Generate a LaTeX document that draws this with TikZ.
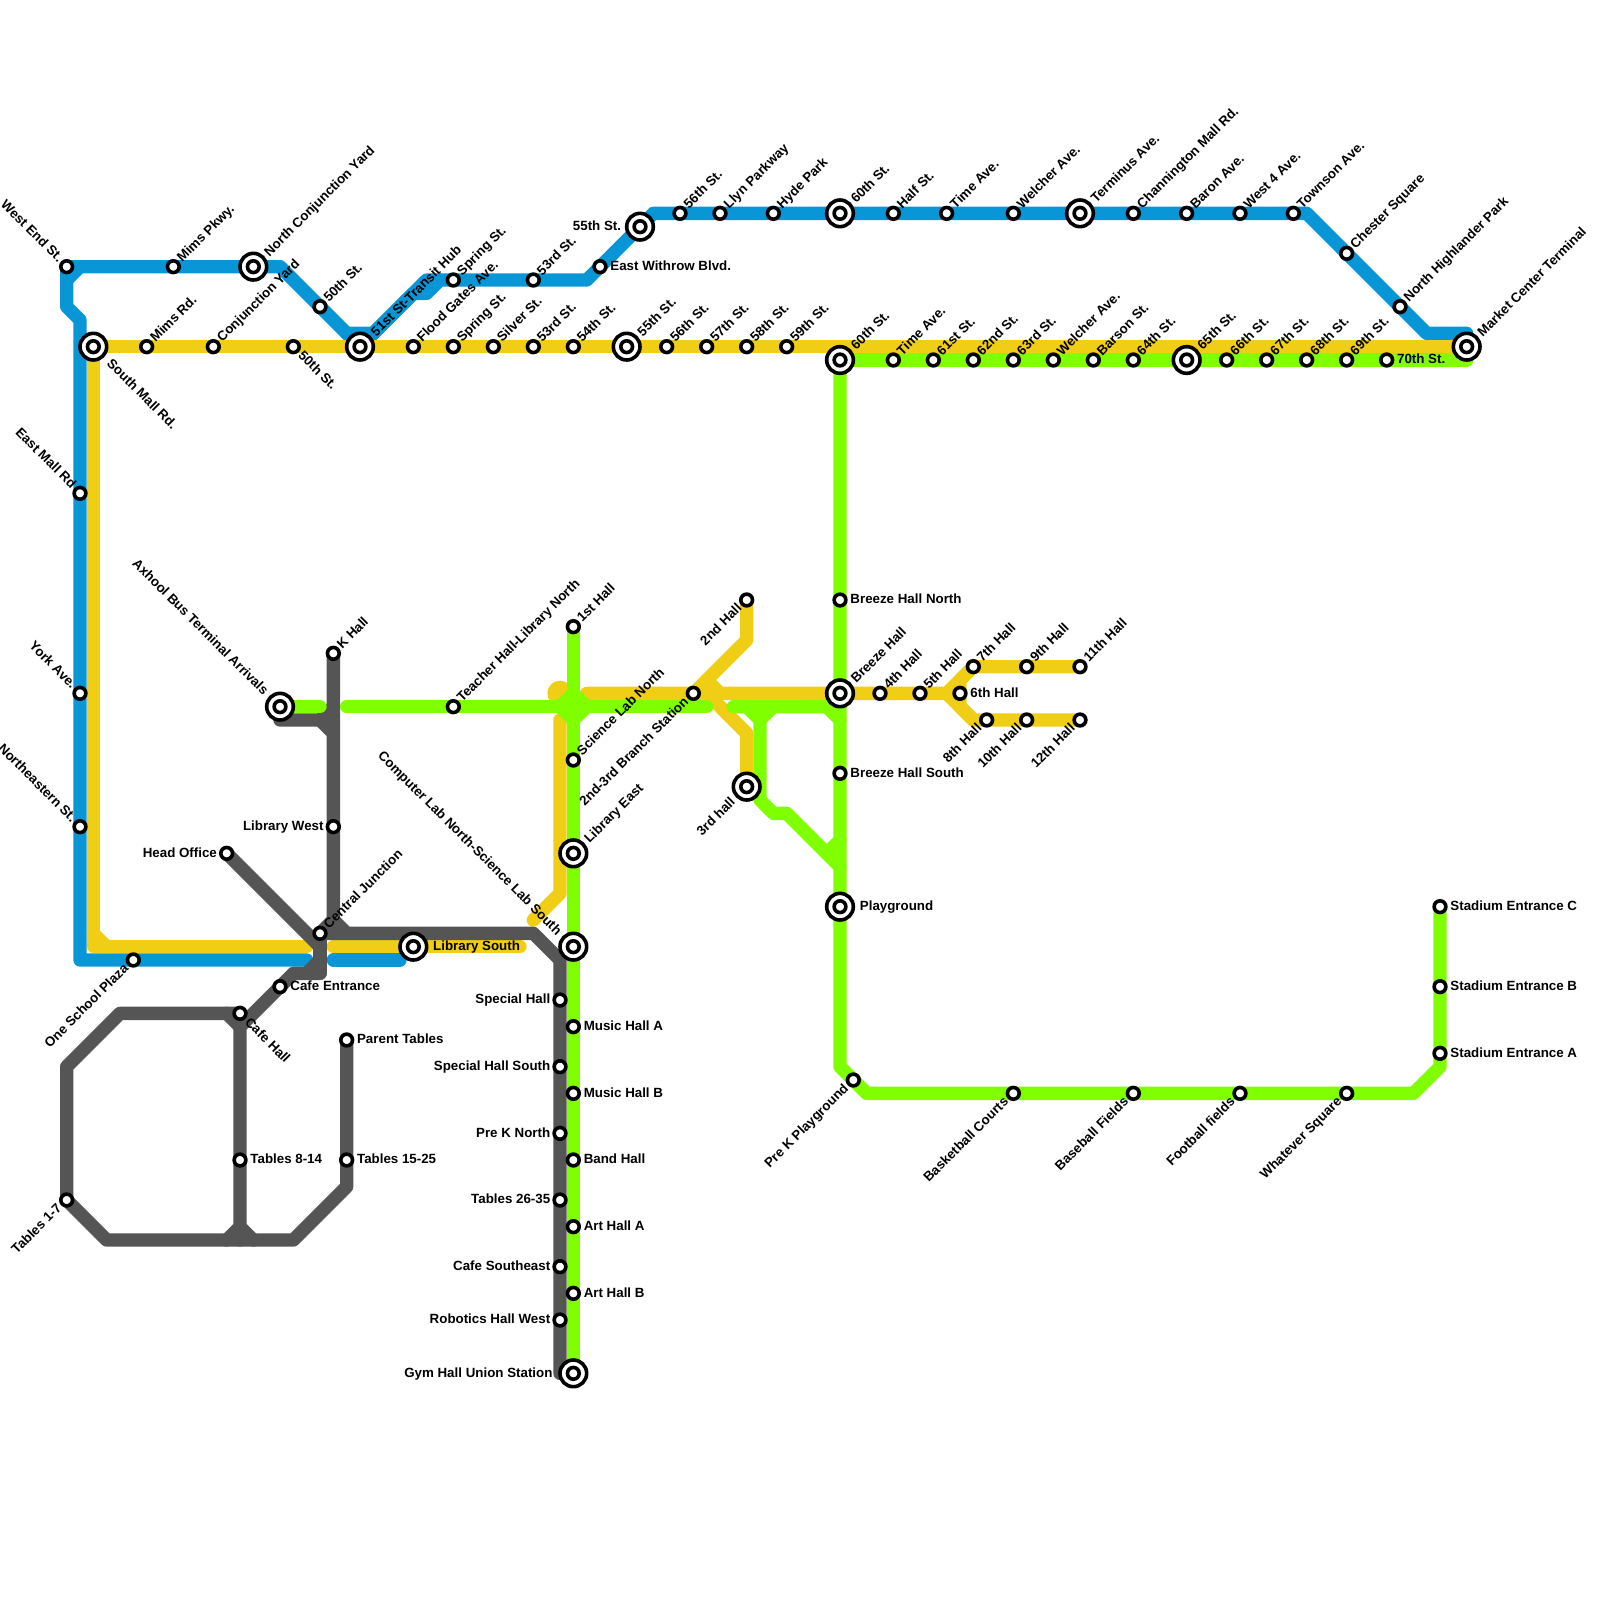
\documentclass[tikz,border=0pt]{standalone}
\usepackage{fontspec}
\setmainfont{Liberation Sans}
\definecolor{bluetrack}{HTML}{0896D7}
\definecolor{yellowtrack}{HTML}{F0CE15}
\definecolor{greentrack}{HTML}{80FF00}
\definecolor{greytrack}{HTML}{555555}
\usetikzlibrary{backgrounds}

\begin{document}
\begin{tikzpicture}[
        x=0.4cm, y=-0.4cm,
        every label/.style={font=\fontsize{11.38}{13}\selectfont\bfseries, inner sep=0pt, text height=6.5pt, text depth=0pt},
        track/.style={line width=0.4cm, color=#1, line cap=round, line join=round},
        stn/.style={circle, draw=black, fill=white, line width=1.08mm, inner sep=0pt, outer sep=0pt, minimum size=3.52mm},
        stnbig/.style={circle, draw=black, fill=white, line width=1.08mm, inner sep=0pt, outer sep=0pt, minimum size=8mm,
            path picture={\draw[black, line width=1.08mm, fill=white] (path picture bounding box.center) circle (1.76mm);}},
        tagne/.style={label={[xshift=0.6mm, yshift=-0.6mm, rotate=45, anchor=west, label distance=1.3mm]45:#1}},
        tagnw/.style={label={[xshift=-0.6mm, yshift=-0.6mm, rotate=-45, anchor=east, label distance=1.3mm]135:#1}},
        tagse/.style={label={[xshift=0.8mm, yshift=0.45mm, rotate=-45, anchor=west, label distance=1.3mm]-45:#1}},
        tagsw/.style={label={[xshift=-0.8mm, yshift=0.6mm, rotate=45, anchor=east, label distance=1.3mm]-135:#1}},
        tagr/.style={label={[anchor=west, label distance=1.3mm]0:#1}},
        tagl/.style={label={[anchor=east, label distance=1.1mm]180:#1}},
        tagbne/.style={label={[xshift=1.2mm, yshift=-1.2mm, rotate=45, anchor=west, label distance=2mm]45:#1}},
        tagbnw/.style={label={[xshift=-1.4mm, yshift=-0.8mm, rotate=-45, anchor=east, label distance=2mm]135:#1}},
        tagbse/.style={label={[xshift=1.8mm, yshift=0.3mm, rotate=-45, anchor=west, label distance=2mm]-45:#1}},
        tagbsw/.style={label={[xshift=-1.2mm, yshift=0.8mm, rotate=45, anchor=east, label distance=2mm]-135:#1}},
        tagbr/.style={label={[anchor=west, label distance=1.9mm]0:#1}},
        tagbl/.style 2 args={label={[anchor=east, label distance=#1]180:#2}}
    ]
        \useasboundingbox (0,0) rectangle (120,120);

        % Upper street line
        \node[stn, tagnw={West End St.}] (westend) at (5,20) {};
        \node[stn, tagne={Mims Pkwy.}] (mimspkwy) at (13,20) {};
        \node[stnbig, tagbne={North Conjunction Yard}] (northyard) at (19,20) {};
        \node[stn, tagne={50th St.}] (fiftiethup) at (24,23) {};
        \node[stn, tagne={Spring St.}] (springup) at (34,21) {};
        \node[stn, tagne={53rd St.}] (thirdup) at (40,21) {};
        \node[stn, tagr={East Withrow Blvd.}] (withrow) at (45,20) {};
        \node[stnbig, tagbl={1.6mm}{55th St.}] (fifthup) at (48,17) {};
        \node[stn, tagne={56th St.}] (sixthup) at (51,16) {};
        \node[stn, tagne={Llyn Parkway}] (llyn) at (54,16) {};
        \node[stn, tagne={Hyde Park}] (hyde) at (58,16) {};
        \node[stnbig, tagbne={60th St.}] (sixtiethup) at (63,16) {};
        \node[stn, tagne={Half St.}] (half) at (67,16) {};
        \node[stn, tagne={Time Ave.}] (timeup) at (71,16) {};
        \node[stn, tagne={Welcher Ave.}] (welcherup) at (76,16) {};
        \node[stnbig, tagbne={Terminus Ave.}] (terminus) at (81,16) {};
        \node[stn, tagne={Channington Mall Rd.}] (channington) at (85,16) {};
        \node[stn, tagne={Baron Ave.}] (baron) at (89,16) {};
        \node[stn, tagne={West 4 Ave.}] (westfour) at (93,16) {};
        \node[stn, tagne={Townson Ave.}] (townson) at (97,16) {};
        \node[stn, tagne={Chester Square}] (chester) at (101,19) {};
        \node[stn, tagne={North Highlander Park}] (highlander) at (105,23) {};
        \node[stnbig, tagbne={Market Center Terminal}] (market) at (110,26) {};

        % Left side
        \node[stn, tagnw={East Mall Rd}] (eastmall) at (6,37) {};
        \node[stn, tagnw={York Ave.}] (york) at (6,52) {};
        \node[stn, tagnw={Northeastern St.}] (northeastern) at (6,62) {};
        \node[stn, tagsw={One School Plaza}] (school) at (10,72) {};

        % Lower street line
        \node[stnbig, tagbse={South Mall Rd.}] (southmall) at (7,26) {};
        \node[stn, tagne={Mims Rd.}] (mimsrd) at (11,26) {};
        \node[stn, tagne={Conjunction Yard}] (conjunction) at (16,26) {};
        \node[stn, tagse={50th St.}] (fiftieth) at (22,26) {};
        \node[stnbig, tagbne={51st St-Transit Hub}] (hub) at (27,26) {};
        \node[stn, tagne={Flood Gates Ave.}] (flood) at (31,26) {};
        \node[stn, tagne={Spring St.}] (spring) at (34,26) {};
        \node[stn, tagne={Silver St.}] (silver) at (37,26) {};
        \node[stn, tagne={53rd St.}] (third) at (40,26) {};
        \node[stn, tagne={54th St.}] (fourth) at (43,26) {};
        \node[stnbig, tagbne={55th St.}] (fifth) at (47,26) {};
        \node[stn, tagne={56th St.}] (sixth) at (50,26) {};
        \node[stn, tagne={57th St.}] (seventh) at (53,26) {};
        \node[stn, tagne={58th St.}] (eighth) at (56,26) {};
        \node[stn, tagne={59th St.}] (ninth) at (59,26) {};
        \node[stnbig, tagbne={60th St.}] (sixtieth) at (63,27) {};
        \node[stn, tagne={Time Ave.}] (time) at (67,27) {};
        \node[stn, tagne={61st St.}] (sixtyone) at (70,27) {};
        \node[stn, tagne={62nd St.}] (sixtytwo) at (73,27) {};
        \node[stn, tagne={63rd St.}] (sixtythree) at (76,27) {};
        \node[stn, tagne={Welcher Ave.}] (welcher) at (79,27) {};
        \node[stn, tagne={Barson St.}] (barson) at (82,27) {};
        \node[stn, tagne={64th St.}] (sixtyfour) at (85,27) {};
        \node[stnbig, tagbne={65th St.}] (sixtyfive) at (89,27) {};
        \node[stn, tagne={66th St.}] (sixtysix) at (92,27) {};
        \node[stn, tagne={67th St.}] (sixtyseven) at (95,27) {};
        \node[stn, tagne={68th St.}] (sixtyeight) at (98,27) {};
        \node[stn, tagne={69th St.}] (sixtynine) at (101,27) {};
        \node[stn, tagr={70th St.}] (seventy) at (104,27) {};

        % Breeze Hall line
        \node[stn, tagr={Breeze Hall North}] (breezenorth) at (63,45) {};
        \node[stnbig, tagbne={Breeze Hall}] (breeze) at (63,52) {};
        \node[stn, tagr={Breeze Hall South}] (breezesouth) at (63,58) {};
        \node[stnbig, tagbr={Playground}] (playground) at (63,68) {};
        \node[stn, tagsw={Pre K Playground}] (prekplay) at (64,81) {};
        \node[stn, tagsw={Basketball Courts}] (basketball) at (76,82) {};
        \node[stn, tagsw={Baseball Fields}] (baseball) at (85,82) {};
        \node[stn, tagsw={Football fields}] (football) at (93,82) {};
        \node[stn, tagsw={Whatever Square}] (whatever) at (101,82) {};
        \node[stn, tagr={Stadium Entrance A}] (stadiuma) at (108,79) {};
        \node[stn, tagr={Stadium Entrance B}] (stadiumb) at (108,74) {};
        \node[stn, tagr={Stadium Entrance C}] (stadiumc) at (108,68) {};

        % Halls
        \node[stn, tagne={4th Hall}] (hallfour) at (66,52) {};
        \node[stn, tagne={5th Hall}] (hallfive) at (69,52) {};
        \node[stn, tagr={6th Hall}] (hallsix) at (72,52) {};
        \node[stn, tagne={7th Hall}] (hallseven) at (73,50) {};
        \node[stn, tagsw={8th Hall}] (halleight) at (74,54) {};
        \node[stn, tagne={9th Hall}] (hallnine) at (77,50) {};
        \node[stn, tagsw={10th Hall}] (hallten) at (77,54) {};
        \node[stn, tagne={11th Hall}] (halleleven) at (81,50) {};
        \node[stn, tagsw={12th Hall}] (halltwelve) at (81,54) {};
        \node[stn, tagsw={2nd Hall}] (halltwo) at (56,45) {};
        \node[stnbig, tagbsw={3rd hall}] (hallthree) at (56,59) {};
        \node[stn, tagsw={2nd-3rd Branch Station}] (branch) at (52,52) {};

        % Centre column
        \node[stnbig, tagbnw={Axhool Bus Terminal Arrivals}] (axhool) at (21,53) {};
        \node[stn, tagne={Teacher Hall-Library North}] (teacher) at (34,53) {};
        \node[stn, tagne={1st Hall}] (hallone) at (43,47) {};
        \node[stn, tagne={Science Lab North}] (science) at (43,57) {};
        \node[stnbig, tagbne={Library East}] (libeast) at (43,64) {};
        \node[stnbig, tagbnw={Computer Lab North-Science Lab South}] (computer) at (43,71) {};
        \node[stn, tagr={Music Hall A}] (musica) at (43,77) {};
        \node[stn, tagr={Music Hall B}] (musicb) at (43,82) {};
        \node[stn, tagr={Band Hall}] (band) at (43,87) {};
        \node[stn, tagr={Art Hall A}] (arta) at (43,92) {};
        \node[stn, tagr={Art Hall B}] (artb) at (43,97) {};
        \node[stnbig, tagbl={2.2mm}{Gym Hall Union Station}] (gym) at (43,103) {};
        \node[stn, tagl={Special Hall}] (special) at (42,75) {};
        \node[stn, tagl={Special Hall South}] (specialsouth) at (42,80) {};
        \node[stn, tagl={Pre K North}] (preknorth) at (42,85) {};
        \node[stn, tagl={Tables 26-35}] (tablesc) at (42,90) {};
        \node[stn, tagl={Cafe Southeast}] (cafesoutheast) at (42,95) {};
        \node[stn, tagl={Robotics Hall West}] (robotics) at (42,99) {};

        % Grey side
        \node[stn, tagne={K Hall}] (hallk) at (25,49) {};
        \node[stn, tagl={Library West}] (libwest) at (25,62) {};
        \node[stn, tagl={Head Office}] (head) at (17,64) {};
        \node[stn, tagne={Central Junction}] (central) at (24,70) {};
        \node[stnbig, tagbr={Library South}] (libsouth) at (31,71) {};
        \node[stn, tagr={Cafe Entrance}] (cafeentrance) at (21,74) {};
        \node[stn, tagse={Cafe Hall}] (cafehall) at (18,76) {};
        \node[stn, tagr={Parent Tables}] (parent) at (26,78) {};
        \node[stn, tagr={Tables 8-14}] (tablesa) at (18,87) {};
        \node[stn, tagr={Tables 15-25}] (tablesb) at (26,87) {};
        \node[stn, tagsw={Tables 1-7}] (tablesone) at (5,90) {};

        % Corners of the blue track
        \coordinate (ba) at (21,20);
        \coordinate (bb) at (26,25);
        \coordinate (bc) at (28,25);
        \coordinate (bd) at (31,22);
        \coordinate (be) at (32,22);
        \coordinate (bf) at (33,21);
        \coordinate (bg) at (32,21);
        \coordinate (bh) at (44,21);
        \coordinate (bi) at (49,16);
        \coordinate (bj) at (98,16);
        \coordinate (bk) at (107,25);
        \coordinate (bl) at (110,25);
        \coordinate (bm) at (5,23);
        \coordinate (bn) at (6,24);
        \coordinate (bo) at (6,72);
        \coordinate (bp) at (23,72);
        \coordinate (bq) at (25,72);
        \coordinate (br) at (30,72);
        \coordinate (bs) at (5,21);
        \coordinate (bt) at (6,20);

        % Corners of the yellow track
        \coordinate (ya) at (7,71);
        \coordinate (yb) at (23,71);
        \coordinate (yc) at (7,70);
        \coordinate (yd) at (8,71);
        \coordinate (ye) at (25,71);
        \coordinate (yf) at (39,71);
        \coordinate (yg) at (42,52);
        \coordinate (yh) at (43,52);
        \coordinate (yi) at (44,52);
        \coordinate (yj) at (71,52);
        \coordinate (yk) at (42,54);
        \coordinate (yl) at (42,67);
        \coordinate (ym) at (40,69);
        \coordinate (yn) at (56,48);
        \coordinate (yo) at (53,51);
        \coordinate (yp) at (54,52);
        \coordinate (yq) at (53,52);
        \coordinate (yr) at (56,55);
        \coordinate (ys) at (73,54);
        \coordinate (yt) at (72,51);
        \coordinate (yu) at (72,53);

        % Corners of the grey track
        \coordinate (ga) at (25,69);
        \coordinate (gb) at (26,70);
        \coordinate (gc) at (40,70);
        \coordinate (gd) at (42,72);
        \coordinate (ge) at (42,103);
        \coordinate (gf) at (24,71);
        \coordinate (gg) at (24,73);
        \coordinate (gh) at (22,73);
        \coordinate (gi) at (18,77);
        \coordinate (gj) at (18,93);
        \coordinate (gk) at (21,54);
        \coordinate (gl) at (24,54);
        \coordinate (gm) at (25,53);
        \coordinate (gn) at (25,55);
        \coordinate (go) at (9,76);
        \coordinate (gp) at (5,80);
        \coordinate (gq) at (8,93);
        \coordinate (gr) at (22,93);
        \coordinate (gs) at (26,89);
        \coordinate (gt) at (17,76);
        \coordinate (gu) at (18,92);
        \coordinate (gv) at (17,93);
        \coordinate (gw) at (19,93);
        \coordinate (gx) at (24,72);
        \coordinate (gy) at (23,73);

        % Corners of the green track
        \coordinate (na) at (24,53);
        \coordinate (nb) at (26,53);
        \coordinate (nc) at (53,53);
        \coordinate (nd) at (42,53);
        \coordinate (ne) at (43,54);
        \coordinate (nf) at (44,53);
        \coordinate (ng) at (43,52);
        \coordinate (nh) at (55,53);
        \coordinate (ni) at (62,53);
        \coordinate (nj) at (63,54);
        \coordinate (nk) at (63,80);
        \coordinate (nl) at (65,82);
        \coordinate (nm) at (106,82);
        \coordinate (nn) at (108,80);
        \coordinate (no) at (56,53);
        \coordinate (np) at (57,54);
        \coordinate (nq) at (58,53);
        \coordinate (nr) at (57,53);
        \coordinate (ns) at (57,60);
        \coordinate (nt) at (58,61);
        \coordinate (nu) at (59,61);
        \coordinate (nv) at (63,65);
        \coordinate (nw) at (62,64);
        \coordinate (nx) at (63,63);
        \coordinate (ny) at (110,27);

        \begin{scope}[on background layer]
            % Blue track
            \draw[track=bluetrack] (westend.center) -- (northyard.center) -- (ba) -- (bb) -- (bc) -- (bd) -- (be) -- (bf) -- (springup.center) -- (bh) -- (bi) -- (bj) -- (bk) -- (bl) -- (market.center);
            \draw[track=bluetrack] (bc) -- (bg) -- (bf);
            \draw[track=bluetrack] (bb) -- (hub.center) -- (bc);
            \draw[track=bluetrack] (westend.center) -- (bm) -- (bn) -- (bo) -- (bp);
            \draw[track=bluetrack] (bs) -- (bt);
            \draw[track=bluetrack] (bq) -- (br);

            % Yellow track
            \draw[track=yellowtrack] (market.center) -- (southmall.center) -- (ya) -- (yb);
            \draw[track=yellowtrack] (yc) -- (yd);
            \draw[track=yellowtrack] (ye) -- (yf);
            \fill[yellowtrack] (yg) circle (0.38cm);
            \draw[track=yellowtrack] (yg) -- (yh);
            \draw[track=yellowtrack] (yi) -- (yj) -- (hallseven.center) -- (halleleven.center);
            \draw[track=yellowtrack] (yj) -- (ys) -- (halltwelve.center);
            \draw[track=yellowtrack] (hallseven.center) -- (yt) -- (yu) -- (ys);
            \draw[track=yellowtrack] (yk) -- (yl) -- (ym);
            \draw[track=yellowtrack] (halltwo.center) -- (yn) -- (branch.center);
            \draw[track=yellowtrack] (yo) -- (yp);
            \draw[track=yellowtrack] (yq) -- (yr) -- (hallthree.center);

            % Grey track
            \draw[track=greytrack] (hallk.center) -- (ga) -- (gb) -- (gc) -- (gd) -- (ge);
            \draw[track=greytrack] (ga) -- (central.center) -- (gb);
            \draw[track=greytrack] (central.center) -- (gg);
            \draw[track=greytrack] (head.center) -- (gf);
            \draw[track=greytrack] (gg) -- (gh) -- (gi) -- (gj);
            \draw[track=greytrack] (gx) -- (gy);
            \draw[track=greytrack] (gk) -- (gl) -- (gm);
            \draw[track=greytrack] (gl) -- (gn);
            \draw[track=greytrack] (cafehall.center) -- (go) -- (gp) -- (tablesone.center) -- (gq) -- (gr) -- (gs) -- (parent.center);
            \draw[track=greytrack] (gt) -- (gi);
            \draw[track=greytrack] (gv) -- (gu) -- (gw);

            % Green track
            \draw[track=greentrack] (axhool.center) -- (na);
            \draw[track=greentrack] (nb) -- (nc);
            \draw[track=greentrack] (hallone.center) -- (gym.center);
            \draw[track=greentrack] (nd) -- (ne) -- (nf) -- (ng) -- cycle;
            \draw[track=greentrack] (nh) -- (ni) -- (nj);
            \draw[track=greentrack] (sixtieth.center) -- (nk) -- (nl) -- (nm) -- (nn) -- (stadiumc.center);
            \draw[track=greentrack] (no) -- (np) -- (nq);
            \draw[track=greentrack] (nr) -- (ns) -- (nt) -- (nu) -- (nv);
            \draw[track=greentrack] (nw) -- (nx);
            \draw[track=greentrack] (sixtieth.center) -- (ny);
        \end{scope}
    \end{tikzpicture}
\end{document}
